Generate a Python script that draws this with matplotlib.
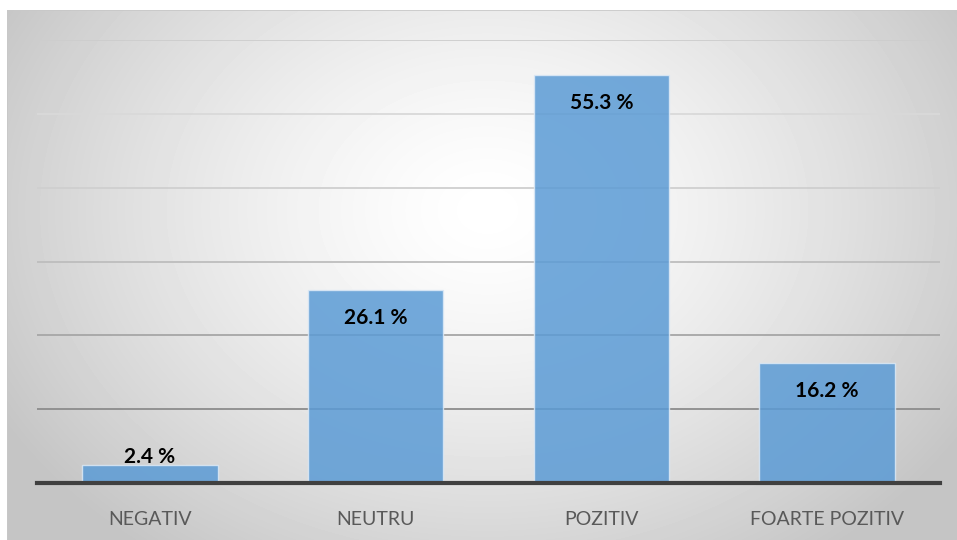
import numpy as np
import matplotlib.pyplot as plt

categories = ['NEGATIV', 'NEUTRU', 'POZITIV', 'FOARTE POZITIV']
values = [2.4, 26.1, 55.3, 16.2]
labels = ['2.4 %', '26.1 %', '55.3 %', '16.2 %']
grid_values = [10, 20, 30, 40, 50, 60]
grid_colors = ['#8c8c8c', '#a6a6a6', '#bdbdbd', '#cfcfcf', '#d9d9d9', '#cdcdcd']

W, H = 957, 540
fig = plt.figure(figsize=(W / 100, H / 100), dpi=100)
fig.patch.set_facecolor('white')

# background panel with radial gradient (light centre, grey edges)
bg = fig.add_axes([7 / W, 0, 950 / W, 530 / H])
yy, xx = np.mgrid[0:530, 0:950]
r = np.sqrt(((xx - 480) / 560.0) ** 2 + ((yy - 200) / 430.0) ** 2)
shade = 1.0 - 0.23 * np.clip(r, 0, 1) ** 1.4
bg.imshow(shade, cmap='gray', vmin=0, vmax=1, aspect='auto', interpolation='bilinear')
bg.set_xticks([])
bg.set_yticks([])
for s in bg.spines.values():
    s.set_color('#c8c8c8')
    s.set_linewidth(0.6)

# main chart axes
ax = fig.add_axes([37 / W, (540 - 483) / H, (940 - 37) / W, (483 - 40) / H])
ax.patch.set_alpha(0)
ax.set_xlim(-0.5, 3.5)
ax.set_ylim(0, 60)

for gv, gc in zip(grid_values, grid_colors):
    ax.axhline(gv, color=gc, lw=1.3, zorder=1)

x = np.arange(len(categories))
ax.bar(x, values, width=0.6, color='#5B9BD5', alpha=0.85,
       edgecolor='#dce9f6', linewidth=1, zorder=2)
ax.axhline(0, color='#404040', lw=3, zorder=3, clip_on=False)

for xi, v, lab in zip(x, values, labels):
    dy = 8 if v < 5 else -28
    ax.annotate(lab, (xi, v), xytext=(0, dy), textcoords='offset pixels',
                ha='center', va='center', fontsize=15, fontweight='bold',
                family='Lato', color='black', zorder=4)

ax.set_xticks(x)
ax.set_xticklabels(categories, fontsize=14, family='Lato', color='#595959')
ax.tick_params(axis='x', length=0, pad=20)
ax.set_yticks([])
for s in ax.spines.values():
    s.set_visible(False)

fig.savefig('out.png', dpi=100)
